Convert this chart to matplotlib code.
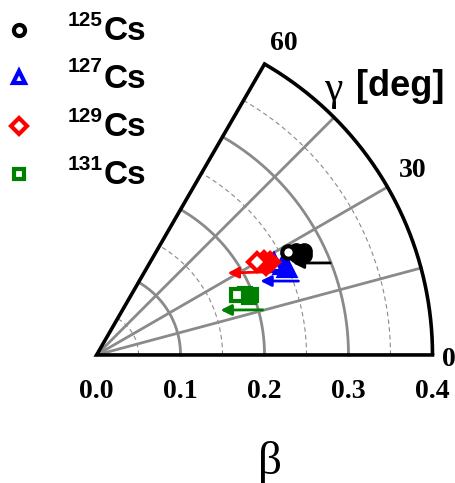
import numpy as np
import matplotlib.pyplot as plt

# beta-gamma values (beta, gamma in degrees)
# first entry = open marker drawn on top, the rest form the filled blob
beta_125 = [0.259, 0.268, 0.276, 0.274, 0.267]
gamma_125 = [28.2, 27.5, 26.7, 25.8, 26.4]
beta_127 = [0.238, 0.246, 0.249]
gamma_127 = [27.4, 25.8, 24.6]
beta_129 = [0.221, 0.229, 0.234, 0.228]
gamma_129 = [30.0, 29.2, 28.3, 28.0]
beta_131 = [0.182, 0.191, 0.197, 0.194]
gamma_131 = [23.0, 22.4, 21.3, 20.9]

# arrows: (beta_start, gamma_start, beta_end, gamma_end)
arrow_125 = (0.299, 21.5, 0.258, 25.1)
arrow_127 = (0.256, 20.1, 0.214, 24.3)
arrow_129 = (0.224, 26.2, 0.184, 32.0)
arrow_131 = (0.205, 15.2, 0.157, 19.9)

isotopes = ['125', '127', '129', '131']
colors = ['black', 'blue', 'red', 'green']
markers = ['o', '^', 'D', 's']
beta_ticks = [0.0, 0.1, 0.2, 0.3, 0.4]
gamma_ticks = [0, 30, 60]


def xy(b, g):
    g = np.radians(np.asarray(g, dtype=float))
    b = np.asarray(b, dtype=float)
    return b * np.cos(g), b * np.sin(g)


fig = plt.figure(figsize=(4.56, 4.83), dpi=100)
ax = fig.add_axes([0, 0, 1, 1])
ax.set_xlim(-0.115, 0.428)
ax.set_ylim(-0.1524, 0.4226)
ax.set_aspect('equal')
ax.axis('off')

grey = '#8a8a8a'
t = np.linspace(0, 60, 200)
# solid arcs
for r in [0.1, 0.2, 0.3]:
    x, y = xy(np.full_like(t, r), t)
    ax.plot(x, y, color=grey, lw=2.0, zorder=1)
# dashed arcs
for r in [0.05, 0.15, 0.25, 0.35]:
    x, y = xy(np.full_like(t, r), t)
    ax.plot(x, y, color=grey, lw=0.8, ls=(0, (4, 3)), zorder=1)
# radial lines
for g in [15, 30, 45]:
    x, y = xy([0, 0.4], [g, g])
    ax.plot(x, y, color=grey, lw=2.0, zorder=1)
# frame
x, y = xy(np.full_like(t, 0.4), t)
ax.plot(x, y, color='black', lw=2.6, zorder=2, solid_capstyle='butt')
x, y = xy([0.4, 0, 0.4], [0, 0, 60])
ax.plot(x, y, color='black', lw=2.6, zorder=2, solid_joinstyle='miter')

serif = 'Liberation Serif'
sans = 'Liberation Sans'
for b in beta_ticks:
    ax.text(b, -0.043, '%.1f' % b, ha='center', va='center',
            fontsize=20, fontweight='bold', family=serif)
ax.text(0.207, -0.128, 'β', ha='center', va='center', fontsize=34, family=serif)

for g, (dx, dy) in zip(gamma_ticks, [(0.02, -0.005), (0.03, 0.02), (0.023, 0.024)]):
    x, y = xy(0.4, g)
    ax.text(x + dx, y + dy, str(g), ha='center', va='center',
            fontsize=20, fontweight='bold', family=serif)

fig.text(333 / 456, 1 - 90 / 483, 'γ', ha='center', va='center', fontsize=30, family=serif)
fig.text(356 / 456, 1 - 86 / 483, '[deg]', ha='left', va='center', fontsize=26,
         fontweight='bold', family=sans)

# data
data = [(beta_125, gamma_125, arrow_125), (beta_127, gamma_127, arrow_127),
        (beta_129, gamma_129, arrow_129), (beta_131, gamma_131, arrow_131)]
sizes = [9, 12, 9, 9]
zord = [6, 4, 5, 4]
for (bb, gg, arr), c, m, ms, z in zip(data, colors, markers, sizes, zord):
    x0, y0 = xy(arr[0], arr[1])
    x1, y1 = xy(arr[2], arr[3])
    ax.annotate('', xy=(x1, y1), xytext=(x0, y0),
                arrowprops=dict(arrowstyle='-|>', color=c, lw=2.0, mutation_scale=16,
                                shrinkA=0, shrinkB=0), zorder=3)
    x, y = xy(bb, gg)
    ax.plot(x[1:], y[1:], ls='', marker=m, ms=ms, mfc=c, mec=c, mew=3, zorder=z)
    ax.plot(x[:1], y[:1], ls='', marker=m, ms=ms, mfc='white', mec=c, mew=3, zorder=z)

# legend
rows = [30, 77, 126, 174]
lsizes = [8, 9, 8, 7]
for iso, c, m, ms, row in zip(isotopes, colors, markers, lsizes, rows):
    ax.plot([19 / 456], [1 - row / 483], ls='', marker=m, ms=ms, mfc='white', mec=c,
            mew=3, transform=fig.transFigure, clip_on=False)
    fig.text(104 / 456, 1 - (row + 2) / 483, 'Cs', ha='left', va='center',
             fontsize=24, fontweight='bold', family=sans)
    fig.text(103 / 456, 1 - (row - 10) / 483, iso, ha='right', va='center',
             fontsize=15, fontweight='bold', family=sans)

fig.savefig('out.png', dpi=100)
